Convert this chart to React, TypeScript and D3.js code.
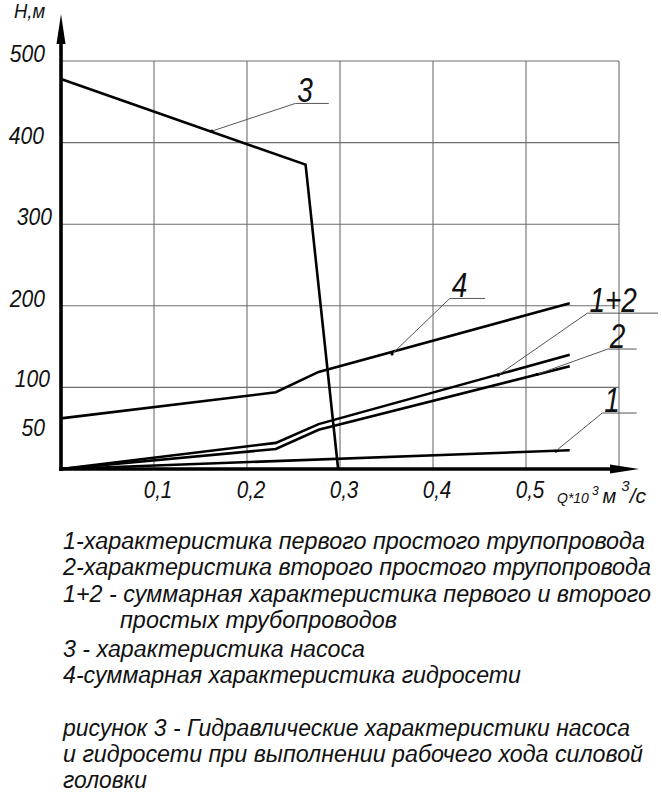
import React from "react";
import * as d3 from "d3";

const W = 662;
const H = 796;

// ---- data (Q in 10^-3 m^3/s, H in m) ----
const q1 = [0, 0.547];
const h1 = [0, 23];
const q2 = [0, 0.231, 0.277, 0.547];
const h2 = [0, 24.5, 48, 126];
const q12 = [0, 0.231, 0.277, 0.547];
const h12 = [0, 32, 55, 140];
const q3 = [0, 0.263, 0.298];
const h3 = [478, 373, 0];
const q4 = [0, 0.231, 0.277, 0.547];
const h4 = [62, 94, 119, 203];

const hGrid = [100, 200, 300, 400, 500];
const qGrid = [0.1, 0.2, 0.3, 0.4, 0.5, 0.6];
const yTickValues = [500, 400, 300, 200, 100, 50];
const yTickLabels = ["500", "400", "300", "200", "100", "50"];
const xTickValues = [0.1, 0.2, 0.3, 0.4, 0.5];
const xTickLabels = ["0,1", "0,2", "0,3", "0,4", "0,5"];

const annLabels = ["3", "4", "1+2", "2", "1"];
const annAnchorQ = [0.162, 0.356, 0.47, 0.512, 0.532];
const annAnchorH = [414, 141, 115, 116, 22];
const annElbowQ = [0.252, 0.418, 0.566, 0.588, 0.582];
const annElbowH = [448, 209, 191, 147, 68.6];
const annEndQ = [0.288, 0.456, 0.642, 0.619, 0.619];

const legendLines = [
  "1-характеристика первого простого трупопровода",
  "2-характеристика второго простого трупопровода",
  "1+2 - суммарная характеристика первого и второго",
  "простых трубопроводов",
  "3 - характеристика насоса",
  "4-суммарная характеристика гидросети",
];
const captionLines = [
  "рисунок 3 - Гидравлические характеристики насоса",
  "и гидросети при выполнении рабочего хода силовой",
  "головки",
];

// ---- layout / styles ----
const FONT = "'Liberation Sans', Arial, sans-serif";
const legendX = [63, 63, 63, 120, 63, 63];
const legendY = [549, 575, 602, 628, 657, 683];
const legendW = [582, 588, 588, 277, 302, 458];
const captionY = [736, 762, 788];
const captionW = [567, 580, 84];
const yLabelRight = [45, 44, 52, 45, 50, 45];
const yLabelDy = [1, 1, 1, 1, 0, 8];

const x = d3.scaleLinear().domain([0, 0.6]).range([61, 619]);
const y = d3.scaleLinear().domain([0, 500]).range([469, 61]);
const line = d3
  .line<[number, number]>()
  .x((d) => x(d[0]))
  .y((d) => y(d[1]));
const zip = (a: number[], b: number[]) => a.map((v, i) => [v, b[i]] as [number, number]);

function SText(props: {
  x: number;
  y: number;
  size: number;
  sx?: number;
  anchor?: string;
  children: React.ReactNode;
}) {
  const sx = props.sx ?? 0.88;
  return (
    <text
      transform={`translate(${props.x},${props.y}) scale(${sx},1)`}
      fontFamily={FONT}
      fontStyle="italic"
      fontSize={props.size}
      textAnchor={props.anchor ?? "start"}
      fill="#111"
    >
      {props.children}
    </text>
  );
}

export default function App() {
  const series = [zip(q1, h1), zip(q2, h2), zip(q12, h12), zip(q3, h3), zip(q4, h4)];
  return (
    <svg
      width={W}
      height={H}
      viewBox={`0 0 ${W} ${H}`}
      style={{ position: "absolute", left: 0, top: 0, background: "#fff" }}
    >
      <rect x={0} y={0} width={W} height={H} fill="#fff" />
      {/* grid */}
      {hGrid.map((h) => (
        <line key={"h" + h} x1={x(0)} x2={x(0.6)} y1={y(h)} y2={y(h)} stroke="#6e6e6e" strokeWidth={1.1} />
      ))}
      {qGrid.map((q) => (
        <line key={"q" + q} x1={x(q)} x2={x(q)} y1={y(0)} y2={y(500)} stroke="#6e6e6e" strokeWidth={1.1} />
      ))}
      {/* curves */}
      {series.map((s, i) => (
        <path key={i} d={line(s) || ""} fill="none" stroke="#000" strokeWidth={2.6} strokeLinejoin="miter" />
      ))}
      {/* axes */}
      <line x1={x(0)} x2={x(0)} y1={y(0) + 2} y2={40} stroke="#000" strokeWidth={3.6} />
      <polygon points={`${x(0)},14 ${x(0) - 4.5},44 ${x(0) + 4.5},44`} fill="#000" />
      <line x1={x(0) - 2} x2={614} y1={y(0)} y2={y(0)} stroke="#000" strokeWidth={3.6} />
      <polygon points={`639,${y(0)} 610,${y(0) - 4.5} 610,${y(0) + 4.5}`} fill="#000" />
      {/* annotations */}
      {annLabels.map((lab, i) => {
        const ax = x(annAnchorQ[i]);
        const ay = y(annAnchorH[i]);
        const ex = x(annElbowQ[i]);
        const ey = y(annElbowH[i]);
        const endx = x(annEndQ[i]);
        return (
          <g key={lab}>
            <polyline
              points={`${ax},${ay} ${ex},${ey} ${endx},${ey}`}
              fill="none"
              stroke="#555"
              strokeWidth={1}
            />
            <circle cx={ax} cy={ay} r={1.6} fill="#000" />
            <SText x={ex + 2} y={ey - 1} size={35} sx={0.8}>
              {lab}
            </SText>
          </g>
        );
      })}
      {/* y tick labels */}
      {yTickValues.map((v, i) => (
        <SText key={v} x={yLabelRight[i]} y={y(v) + yLabelDy[i]} size={24} anchor="end">
          {yTickLabels[i]}
        </SText>
      ))}
      {/* x tick labels */}
      {xTickValues.map((v, i) => (
        <SText key={v} x={x(v) + 4} y={498} size={23.5} anchor="middle">
          {xTickLabels[i]}
        </SText>
      ))}
      {/* axis titles */}
      <SText x={14} y={18} size={21}>
        Н,м
      </SText>
      <text x={557} y={503} fontFamily={FONT} fontStyle="italic" fill="#111">
        <tspan fontSize={14}>Q*10</tspan>
        <tspan fontSize={12} dx={3} dy={-8}>3</tspan>
        <tspan fontSize={20} dx={4} dy={8}>м</tspan>
        <tspan fontSize={15} dx={5} dy={-12}>3</tspan>
        <tspan fontSize={21} dx={0} dy={12}>/с</tspan>
      </text>
      {/* legend */}
      {legendLines.map((t, i) => (
        <text
          key={i}
          x={legendX[i]}
          y={legendY[i]}
          fontFamily={FONT}
          fontStyle="italic"
          fontSize={23.5}
          textLength={legendW[i]}
          lengthAdjust="spacingAndGlyphs"
          fill="#111"
        >
          {t}
        </text>
      ))}
      {captionLines.map((t, i) => (
        <text
          key={"c" + i}
          x={63}
          y={captionY[i]}
          fontFamily={FONT}
          fontStyle="italic"
          fontSize={23.5}
          textLength={captionW[i]}
          lengthAdjust="spacingAndGlyphs"
          fill="#111"
        >
          {t}
        </text>
      ))}
    </svg>
  );
}
